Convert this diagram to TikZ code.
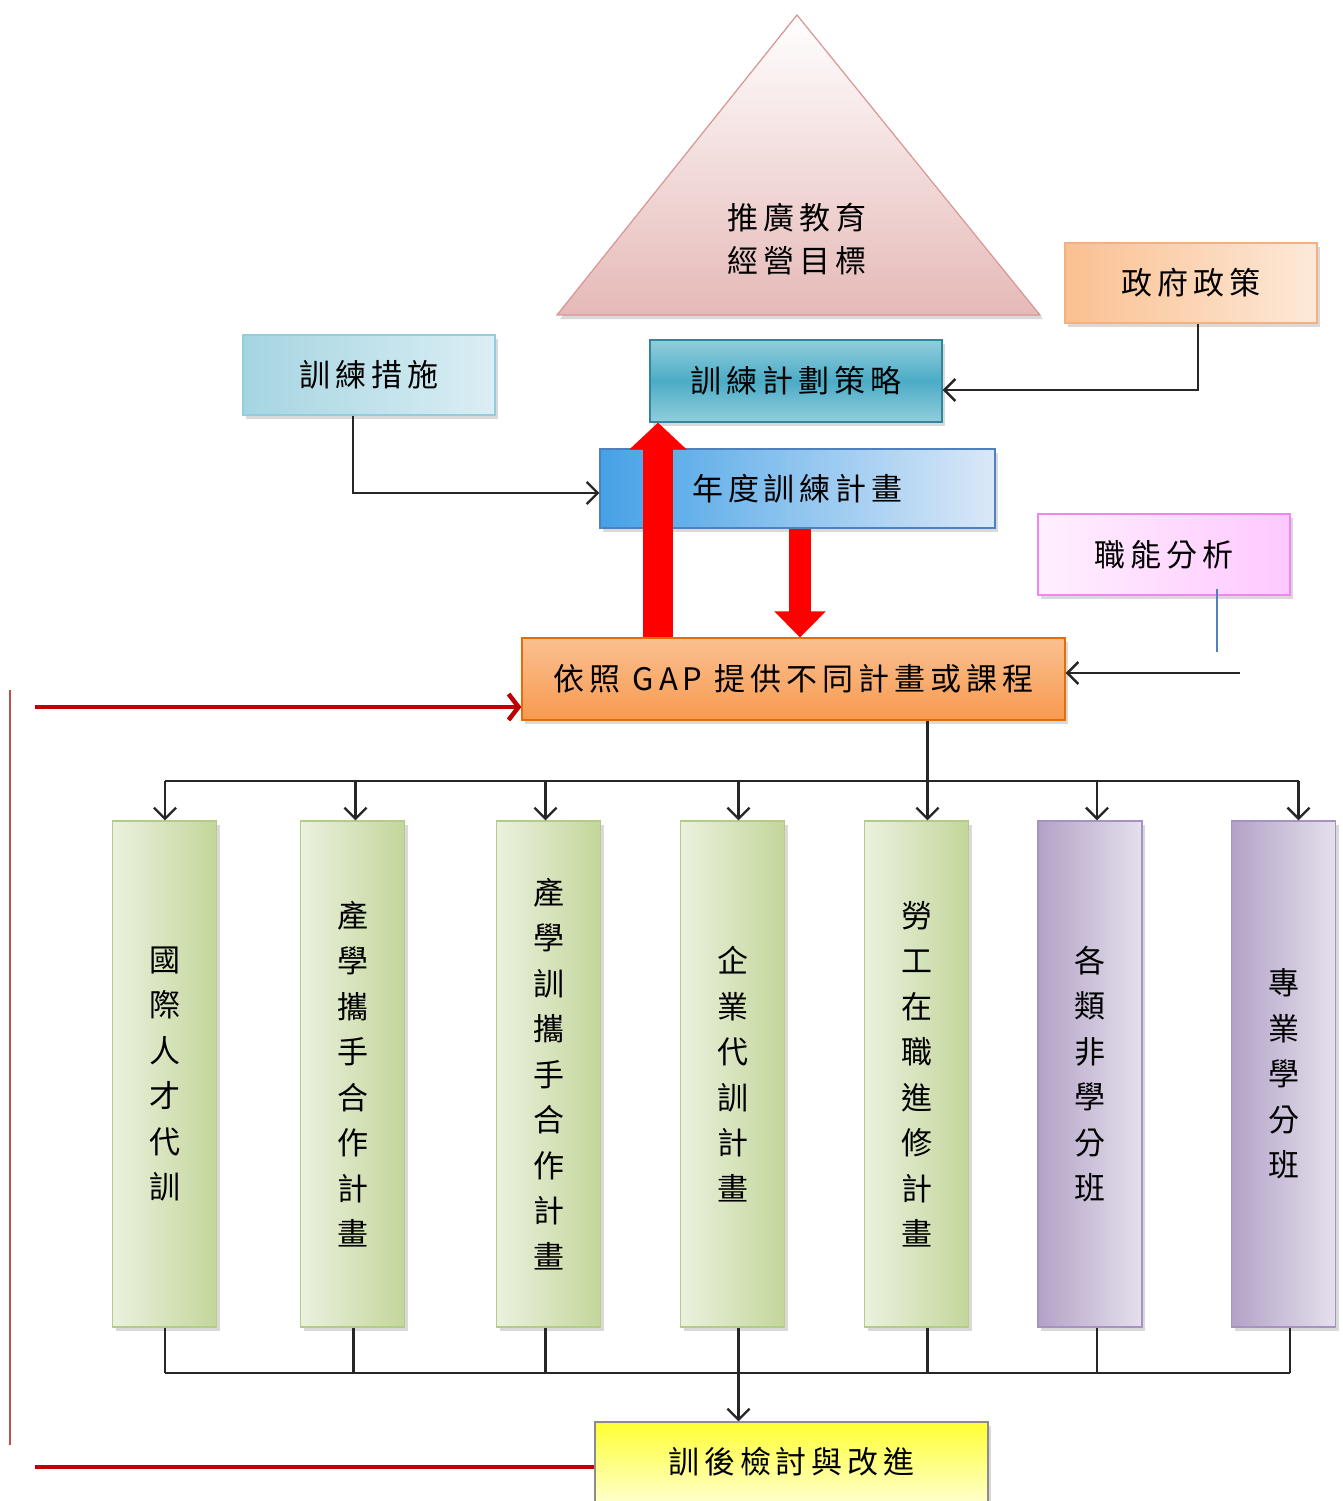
\documentclass[tikz,border=0pt]{standalone}
\usepackage{fontspec}
\usepackage{tikz}
\usetikzlibrary{arrows.meta,shadows,positioning}
\usepackage{xcolor}
\newfontfamily\cjk[LetterSpace=16]{Noto Sans CJK TC}
\newfontfamily\cjkcol{Noto Sans CJK TC}

\definecolor{goalpink}{HTML}{E5B9B7}
\definecolor{goalline}{HTML}{D99694}
\definecolor{govdark}{HTML}{FAC090}
\definecolor{govlight}{HTML}{FDE9D9}
\definecolor{govline}{HTML}{F2B183}
\definecolor{measdark}{HTML}{A5D5E2}
\definecolor{measlight}{HTML}{DBEEF4}
\definecolor{measline}{HTML}{92CDDC}
\definecolor{stratlight}{HTML}{92CDDC}
\definecolor{stratdark}{HTML}{4BACC6}
\definecolor{stratline}{HTML}{31859C}
\definecolor{annualdark}{HTML}{45A1E6}
\definecolor{annuallight}{HTML}{DAE8F8}
\definecolor{annualline}{HTML}{4F81BD}
\definecolor{complight}{HTML}{FFF0FF}
\definecolor{compdark}{HTML}{FFC8FF}
\definecolor{compline}{HTML}{EE88EE}
\definecolor{gaplight}{HTML}{FAC090}
\definecolor{gapdark}{HTML}{F79A50}
\definecolor{gapline}{HTML}{E46C0A}
\definecolor{greenlight}{HTML}{EBF1DE}
\definecolor{greendark}{HTML}{C3D69B}
\definecolor{greenline}{HTML}{B5CB88}
\definecolor{purpledark}{HTML}{B3A2C7}
\definecolor{purplelight}{HTML}{E5E0EC}
\definecolor{purpleline}{HTML}{A793C0}
\definecolor{reviewdark}{HTML}{FFFF33}
\definecolor{reviewlight}{HTML}{FFFFCC}
\definecolor{darkred}{HTML}{C00000}
\definecolor{sidered}{HTML}{C0504D}
\definecolor{tickblue}{HTML}{4F81BD}

\begin{document}
\begin{tikzpicture} [
      x = 1pt, y = -1pt,
      inner sep = 0,
      every node/.style = {font = \cjk\fontsize{31}{43}\selectfont},
      panel/.style = {rectangle, line width = 1.2pt, minimum height = 80pt,
        drop shadow = {opacity = 0.3, shadow xshift = 3pt, shadow yshift = -4pt}},
      colbox/.style = {panel, minimum width = 104pt, minimum height = 506pt, align = center,
        font = \cjkcol\fontsize{31}{45.5}\selectfont},
      greencol/.style = {colbox, left color = greenlight, right color = greendark, draw = greenline},
      purplecol/.style = {colbox, left color = purpledark, right color = purplelight, draw = purpleline},
      wire/.style = {draw = black!85, line width = 2.4pt},
      conn/.style = {wire, -{Straight Barb[length = 11pt, width = 22pt]}},
      bigred/.style = {draw = red, -{Triangle[length = 27pt, width = 56pt]}}
      ]
    \useasboundingbox (0,0) rectangle (1343,1501);

    % goal triangle
    \path [draw = goalline, line width = 1.2pt, top color = white, bottom color = goalpink,
      drop shadow = {opacity = 0.3, shadow xshift = 3pt, shadow yshift = -4pt}]
      (557,315) -- (797,15) -- (1040,315) -- cycle;
    \node [align = center] (goal) at (797,239) {推廣教育\\經營目標};

    % upper boxes
    \node [panel, minimum width = 252pt, left color = govdark, right color = govlight, draw = govline] (policy) at (1191,283) {政府政策};
    \node [panel, minimum width = 252pt, left color = measdark, right color = measlight, draw = measline] (measure) at (369,375) {訓練措施};
    \node [panel, minimum width = 292pt, minimum height = 82pt, top color = stratlight, bottom color = stratlight, middle color = stratdark, draw = stratline] (strategy) at (796,381) {訓練計劃策略};
    \node [panel, minimum width = 395pt, minimum height = 79pt, left color = annualdark, right color = annuallight, draw = annualline] (annual) at (797.5,488.5) {年度訓練計畫};
    \node [panel, minimum width = 252pt, minimum height = 81pt, left color = complight, right color = compdark, draw = compline] (competency) at (1164,554.5) {職能分析};
    \node [panel, minimum width = 543pt, minimum height = 82pt, top color = gaplight, bottom color = gapdark, draw = gapline] (gap) at (793.5,679) {依照 GAP 提供不同計畫或課程};

    % columns
    \node [greencol] (col1) at (164.5,1074) {國\\際\\人\\才\\代\\訓};
    \node [greencol] (col2) at (352.5,1074) {產\\學\\攜\\手\\合\\作\\計\\畫};
    \node [greencol] (col3) at (548.5,1074) {產\\學\\訓\\攜\\手\\合\\作\\計\\畫};
    \node [greencol] (col4) at (732.5,1074) {企\\業\\代\\訓\\計\\畫};
    \node [greencol] (col5) at (916.5,1074) {勞\\工\\在\\職\\進\\修\\計\\畫};
    \node [purplecol] (col6) at (1090,1074) {各\\類\\非\\學\\分\\班};
    \node [purplecol] (col7) at (1283.5,1074) {專\\業\\學\\分\\班};

    \node [panel, minimum width = 393pt, top color = reviewdark, bottom color = reviewlight, draw = black!45] (review) at (791.5,1462) {訓後檢討與改進};

    % free ends
    \coordinate (bus) at (0,781);
    \coordinate (rbus) at (0,1373);
    \coordinate (feed) at (1240,673);
    \coordinate (tick) at (1217,652);
    \coordinate (redin) at (35,707);
    \coordinate (redout) at (35,1467);
    \coordinate (sideT) at (10,690);
    \coordinate (sideB) at (10,1445);

    % connectors
    \draw [conn] ([xshift = 7pt]policy.south) |- ([yshift = -9pt]strategy.east);
    \draw [conn] ([xshift = -16pt]measure.south) |- ([yshift = -4.5pt]annual.west);
    \draw [draw = tickblue, line width = 1.2pt] ([yshift = 7pt]competency.south -| tick) -- (tick);
    \draw [conn] (feed) -- (feed -| gap.east);

    % red arrows
    \draw [bigred, line width = 30pt] ([xshift = -139.5pt]annual.south |- gap.north) -- ([xshift = -139.5pt]annual.south |- strategy.south);
    \draw [bigred, line width = 22pt, -{Triangle[length = 26pt, width = 50pt]}] ([xshift = 2.5pt]annual.south) -- ([xshift = 2.5pt]annual.south |- gap.north);
    \draw [draw = darkred, line width = 4.5pt, -{Straight Barb[length = 10pt, width = 26pt]}] (redin) -- (redin -| gap.west);
    \draw [draw = darkred, line width = 4.5pt] (redout) -- (redout -| review.west);
    \draw [draw = sidered, line width = 2.5pt] (sideT) -- (sideB);

    % to and from the columns
    \foreach \i/\dx in {1/0.5, 2/3, 3/-3, 4/6, 5/11, 6/7, 7/15}
      \coordinate (t\i) at ([xshift = \dx pt]col\i.north);
    \foreach \i/\dx in {1/0.5, 2/1, 3/-3, 4/6, 5/11, 6/7, 7/6.5}
      \coordinate (b\i) at ([xshift = \dx pt]col\i.south);
    \draw [wire] (t1 |- bus) -- (t7 |- bus);
    \draw [conn] (t5 |- gap.south) -- (t5);
    \foreach \i in {1,2,3,4,6,7}
      \draw [conn] (t\i |- bus) -- (t\i);
    \foreach \i in {1,...,7}
      \draw [wire] (b\i) -- (b\i |- rbus);
    \draw [wire] (b1 |- rbus) -- (b7 |- rbus);
    \draw [conn] (b4 |- rbus) -- (b4 |- review.north);
\end{tikzpicture}
\end{document}
